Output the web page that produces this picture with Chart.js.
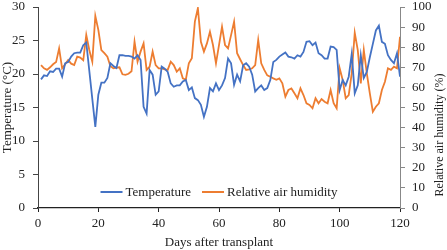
<!DOCTYPE html>
<html>
<head>
<meta charset="utf-8">
<script src="https://cdn.jsdelivr.net/npm/chart.js@4.4.0/dist/chart.umd.min.js"></script>
<style>
  html, body { margin: 0; padding: 0; background: #fff; }
</style>
</head>
<body>
<canvas id="chartClima" width="447" height="250"></canvas>
<script>
// days after transplant (one reading per day)
const days = Array.from({ length: 120 }, (_, i) => i + 1);

const temperature = [
  19.2, 19.8, 19.7, 20.4, 20.3, 20.8, 20.8, 19.6, 21.6, 21.8,
  22.6, 23.1, 23.2, 23.2, 24.3, 24.7, 20.5, 16.3, 12.1, 16.9,
  18.7, 18.7, 19.4, 21.6, 21.2, 20.9, 22.8, 22.8, 22.7, 22.7,
  22.6, 22.3, 22.8, 22.1, 15.1, 14.1, 20.6, 19.9, 16.9, 17.4,
  21.1, 20.8, 20.3, 18.6, 18.1, 18.3, 18.3, 18.9, 19.1, 17.6,
  18.0, 16.4, 16.1, 15.4, 13.6, 15.1, 17.9, 17.4, 18.6, 17.6,
  18.3, 19.4, 22.3, 21.6, 18.4, 19.9, 18.9, 21.3, 21.6, 21.1,
  19.9, 17.4, 17.9, 18.3, 17.6, 17.9, 19.1, 21.8, 22.1, 22.6,
  22.9, 23.2, 22.6, 22.5, 22.3, 22.8, 22.6, 23.3, 24.8, 24.9,
  24.3, 24.7, 23.1, 22.8, 22.3, 22.3, 24.1, 24.0, 23.6, 17.6,
  19.1, 18.3, 19.6, 23.0, 17.1, 18.3, 22.8, 19.4, 20.3, 22.5,
  24.5, 26.5, 27.2, 24.8, 24.5, 22.8, 22.1, 21.6, 23.1, 19.6
];

const humidity = [
  71.1, 69.5, 68.7, 70.0, 71.5, 72.6, 79.4, 69.5, 71.5, 73.6,
  71.8, 71.1, 75.3, 74.8, 73.5, 86.1, 78.6, 72.8, 95.5, 88.6,
  78.6, 77.0, 75.3, 70.5, 69.5, 69.8, 70.0, 66.5, 66.2, 66.8,
  68.0, 82.7, 72.8, 77.8, 81.9, 68.7, 70.3, 77.8, 71.1, 69.5,
  69.5, 69.0, 68.7, 72.8, 71.1, 67.8, 69.5, 64.5, 63.8, 72.0,
  74.5, 92.7, 99.4, 82.7, 77.8, 81.9, 87.7, 81.1, 72.0, 81.0,
  90.2, 81.1, 79.4, 86.0, 92.7, 77.0, 74.0, 71.1, 68.7, 69.0,
  69.5, 71.1, 83.6, 72.0, 68.7, 66.0, 65.3, 64.5, 63.8, 64.5,
  62.0, 55.4, 58.7, 59.5, 57.1, 54.6, 59.5, 56.2, 52.1, 51.3,
  49.6, 54.6, 52.1, 54.2, 52.9, 52.1, 58.7, 52.1, 49.6, 69.5,
  63.7, 54.6, 56.2, 67.0, 87.2, 78.6, 62.0, 78.6, 67.0, 57.0,
  47.9, 50.4, 52.1, 58.7, 62.8, 69.5, 68.7, 70.3, 69.5, 85.2
];

const seriesNames = ['Temperature', 'Relative air humidity'];
const xTitle = 'Days after transplant';
const leftTitle = 'Temperature (°C)';
const rightTitle = 'Relative air humidity (%)';

const fontFamily = '"Liberation Serif", "Times New Roman", serif';
const textColor = '#222';

// legend inside the plot + right title reading upwards
const extraText = {
  id: 'extraText',
  afterDraw(chart) {
    const { ctx, chartArea } = chart;
    ctx.save();
    ctx.font = '13px ' + fontFamily;
    ctx.fillStyle = textColor;
    ctx.textBaseline = 'middle';

    const lineLen = 22, gap = 3, itemGap = 11;
    const widths = seriesNames.map(n => ctx.measureText(n).width);
    const total = widths.reduce((a, w) => a + lineLen + gap + w, 0) + itemGap;
    let x = (chartArea.left + chartArea.right) / 2 - total / 2;
    const y = chartArea.bottom - 16;
    chart.data.datasets.forEach((ds, i) => {
      ctx.strokeStyle = ds.borderColor;
      ctx.lineWidth = 2;
      ctx.beginPath();
      ctx.moveTo(x, y);
      ctx.lineTo(x + lineLen, y);
      ctx.stroke();
      ctx.textAlign = 'left';
      ctx.fillText(seriesNames[i], x + lineLen + gap, y + 1);
      x += lineLen + gap + widths[i] + itemGap;
    });

    ctx.font = '12px ' + fontFamily;
    ctx.translate(440, 135);
    ctx.rotate(-Math.PI / 2);
    ctx.textAlign = 'center';
    ctx.fillText(rightTitle, 0, 0);
    ctx.restore();
  }
};

// pin the scale boxes so the plot area sits where it does in the figure
const fixWidth = w => s => {
  s.width = w;
  s.paddingTop = 0;
  s.paddingBottom = 0;
};

const ctx = document.getElementById('chartClima').getContext('2d');

new Chart(ctx, {
  type: 'line',
  data: {
    datasets: [{
      label: seriesNames[0],
      data: days.map((d, i) => ({ x: d, y: temperature[i] })),
      borderColor: '#4472C4',
      borderWidth: 1.8,
      pointRadius: 0,
      tension: 0,
      yAxisID: 'y'
    }, {
      label: seriesNames[1],
      data: days.map((d, i) => ({ x: d, y: humidity[i] })),
      borderColor: '#ED7D31',
      borderWidth: 1.8,
      pointRadius: 0,
      tension: 0,
      yAxisID: 'y1'
    }]
  },
  options: {
    responsive: false,
    animation: false,
    layout: { padding: { top: 7, left: 0, right: 0, bottom: 0 } },
    plugins: {
      legend: { display: false },
      tooltip: { enabled: false }
    },
    scales: {
      x: {
        type: 'linear',
        min: 0,
        max: 120,
        ticks: { stepSize: 20, color: textColor, font: { family: fontFamily, size: 13 }, padding: 4, maxRotation: 0 },
        grid: { drawOnChartArea: false, tickLength: 4, color: '#222' },
        border: { color: '#222', width: 1.2 },
        title: { display: true, text: xTitle, color: textColor, font: { family: fontFamily, size: 13 }, padding: { top: 4, bottom: 0 } },
        afterFit: s => { s.height = 42; }
      },
      y: {
        position: 'left',
        min: 0,
        max: 30,
        ticks: { stepSize: 5, color: textColor, font: { family: fontFamily, size: 13 }, padding: 8 },
        grid: { drawOnChartArea: false, tickLength: 5, color: '#444' },
        border: { color: '#444', width: 1 },
        title: { display: true, text: leftTitle, color: textColor, font: { family: fontFamily, size: 13 }, padding: 0 },
        afterFit: fixWidth(38)
      },
      y1: {
        position: 'right',
        min: 0,
        max: 100,
        ticks: { stepSize: 10, color: textColor, font: { family: fontFamily, size: 13 }, padding: 7 },
        grid: { drawOnChartArea: false, tickLength: 5, color: '#888' },
        border: { color: '#888', width: 1 },
        afterFit: fixWidth(47)
      }
    }
  },
  plugins: [extraText]
});
</script>
</body>
</html>
